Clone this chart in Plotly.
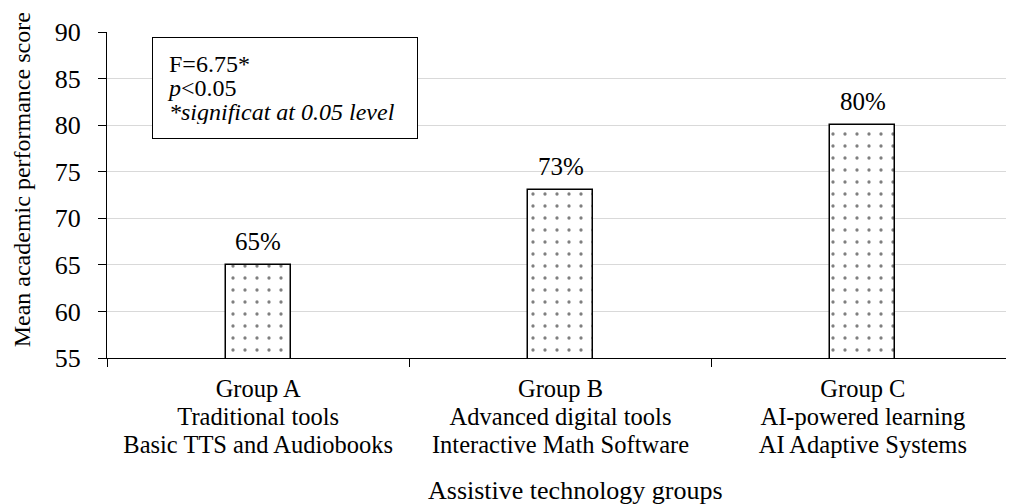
import plotly.graph_objects as go

categories = ["Group A", "Group B", "Group C"]
descriptions = ["Traditional tools", "Advanced digital tools", "AI-powered learning"]
technologies = ["Basic TTS and Audiobooks", "Interactive Math Software", "AI Adaptive Systems"]
scores = [65, 73, 80]
score_labels = ["65%", "73%", "80%"]
y_ticks = [55, 60, 65, 70, 75, 80, 85, 90]
x_title = "Assistive technology groups"
y_title = "Mean academic performance score"

FONT = "Liberation Serif, Times New Roman, serif"
BIG = 25


def stack(lines, size):
    return "<br>".join(f'<span style="font-size:{size}px">{t}</span>' for t in lines)


tick_text = [stack(t, 24.5) for t in zip(categories, descriptions, technologies)]

fig = go.Figure()
fig.add_trace(go.Bar(
    x=categories,
    y=scores,
    width=0.215,
    marker=dict(
        color="white",
        line=dict(color="black", width=1.5),
        pattern=dict(shape=".", fgcolor="black", bgcolor="white", size=12, solidity=0.06),
    ),
    cliponaxis=False,
    showlegend=False,
    hoverinfo="x+y",
))

annotations = [
    dict(
        x=c, y=v, xref="x", yref="y", text=t,
        xanchor="center", yanchor="bottom", yshift=8,
        showarrow=False, font=dict(family=FONT, size=BIG, color="black"),
    )
    for c, v, t in zip(categories, scores, score_labels)
]

annotations.append(dict(
    xref="paper", yref="paper", x=0.0496, y=0.985,
    xanchor="left", yanchor="top", align="left", valign="middle",
    text=stack(("F=6.75*", "<i>p</i><0.05", "<i>*significat at 0.05 level</i>"), 24),
    font=dict(family=FONT, size=18.8, color="black"),
    showarrow=False, bordercolor="black", borderwidth=1, borderpad=14,
    bgcolor="white", width=236, height=72,
))

# axis titles
annotations.append(dict(
    xref="paper", yref="paper", x=-0.0937, y=0.545,
    xanchor="center", yanchor="middle", textangle=-90,
    text=y_title, showarrow=False,
    font=dict(family=FONT, size=24, color="black"),
))
annotations.append(dict(
    xref="paper", yref="paper", x=0.516, y=-0.405,
    xanchor="center", yanchor="middle",
    text=x_title, showarrow=False,
    font=dict(family=FONT, size=26, color="black"),
))

fig.update_layout(
    width=1014, height=504,
    margin=dict(l=99, r=8, t=24, b=154),
    paper_bgcolor="white", plot_bgcolor="white",
    font=dict(family=FONT, color="black"),
    bargap=0,
    xaxis=dict(
        tickmode="array", tickvals=categories, ticktext=tick_text,
        tickfont=dict(family=FONT, size=21.5, color="black"),
        tickson="boundaries", ticks="outside", ticklen=8, tickcolor="black",
        ticklabelstandoff=12,
        showline=True, linecolor="black", linewidth=1.3,
        showgrid=False, automargin=False,
    ),
    yaxis=dict(
        range=[55, 90], tickvals=y_ticks,
        tickfont=dict(family=FONT, size=26, color="black"),
        ticks="outside", ticklen=8, tickcolor="black",
        ticklabelstandoff=12,
        showline=True, linecolor="black", linewidth=1.3,
        showgrid=True, gridcolor="#d9d9d9", gridwidth=1,
        zeroline=False, automargin=False,
    ),
    annotations=annotations,
)

fig.write_html("out.html")
